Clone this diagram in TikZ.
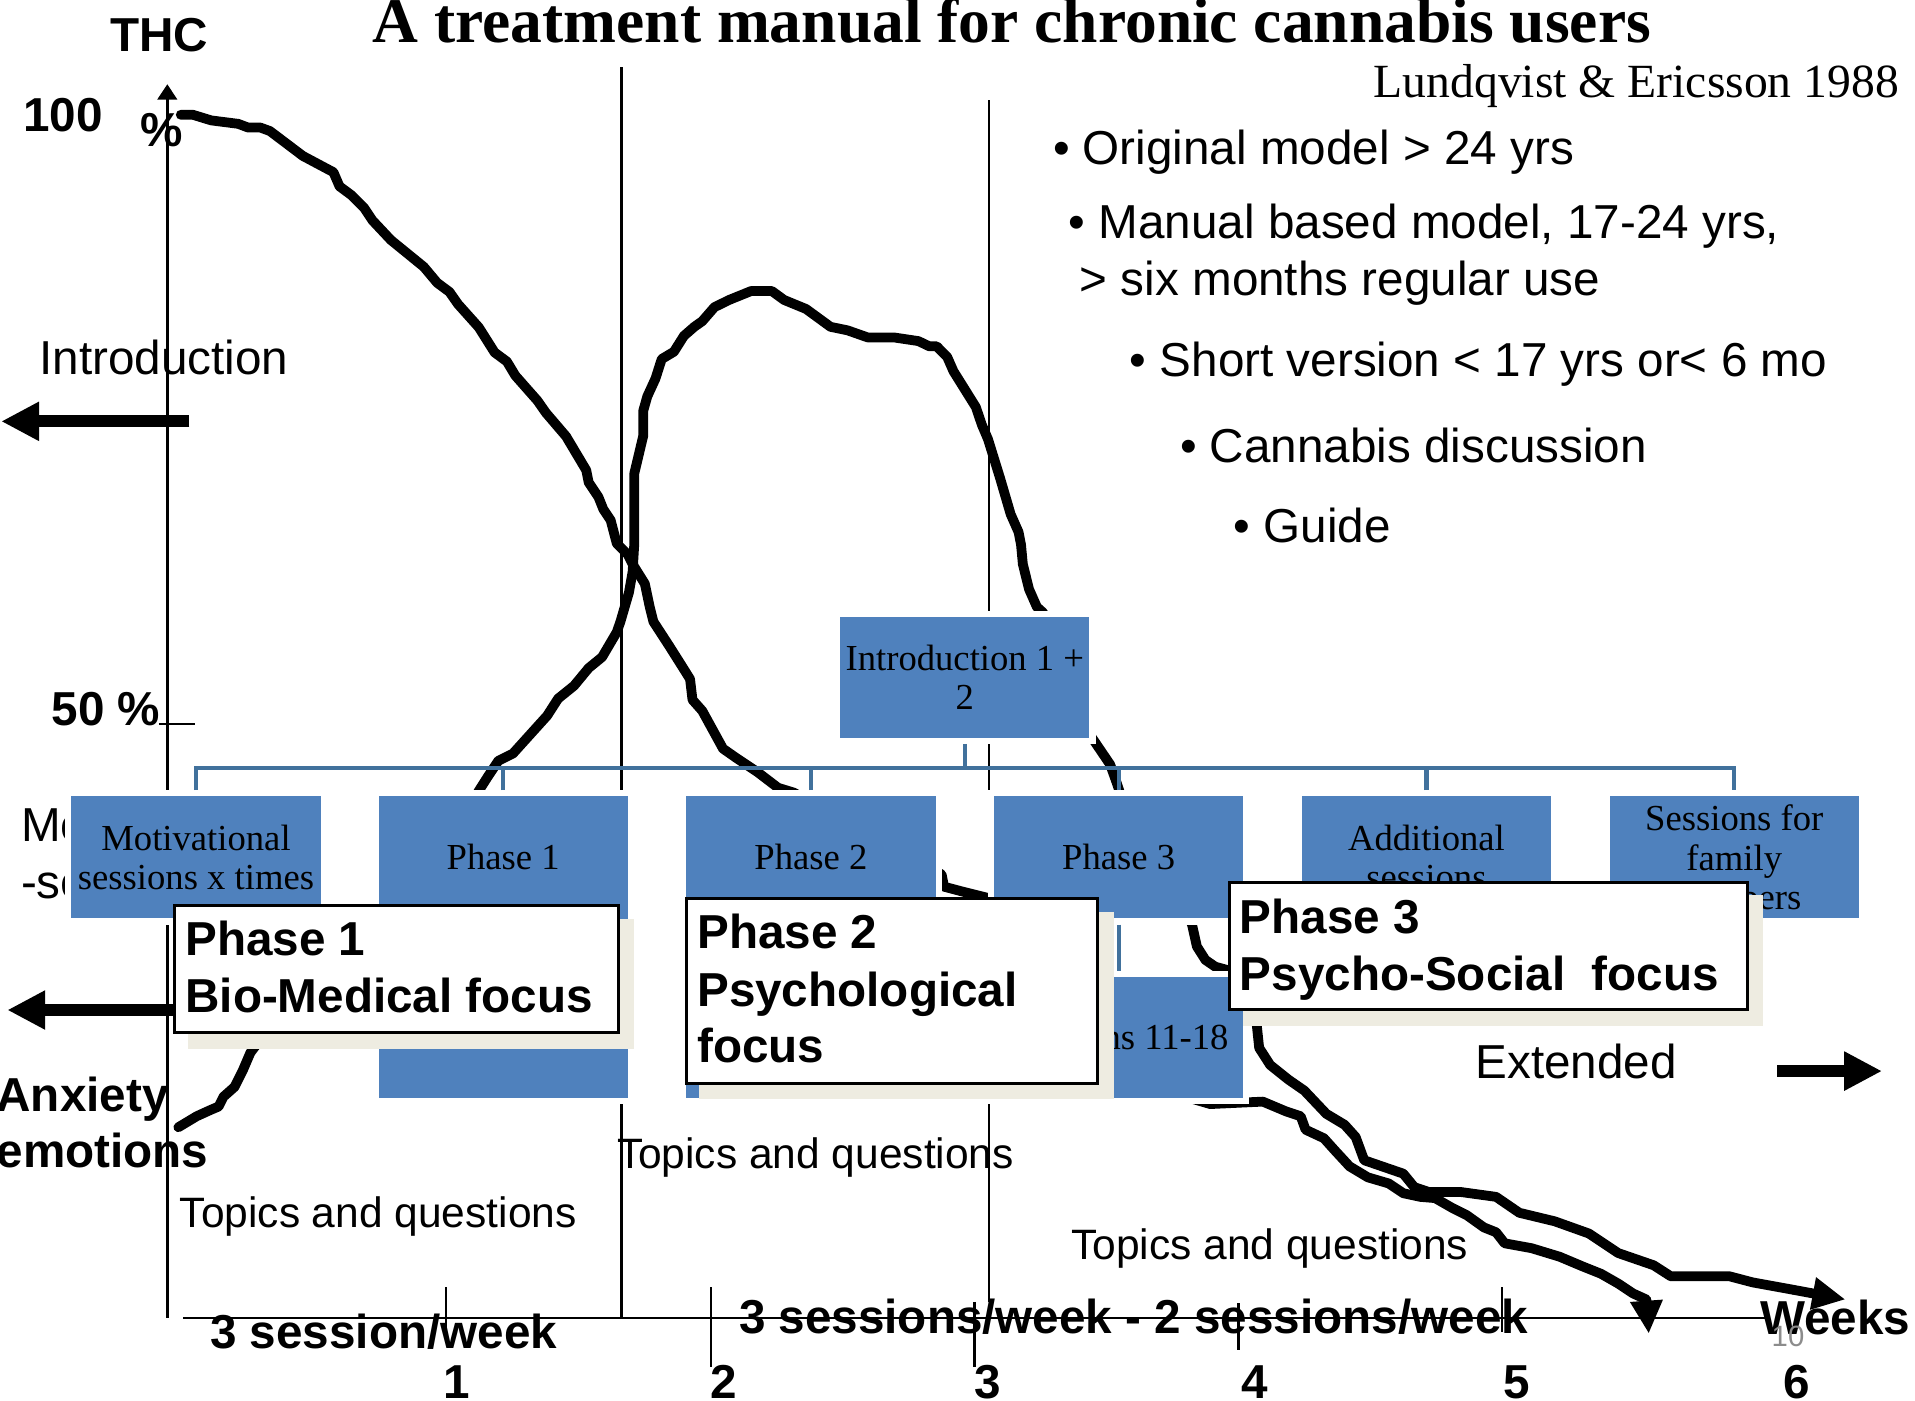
\documentclass[tikz,border=0pt]{standalone}
\usepackage{fontspec}
\setmainfont{Liberation Serif}
\setsansfont{Liberation Sans}
\usetikzlibrary{arrows.meta}
\definecolor{boxblue}{HTML}{4F81BD}
\definecolor{barblue}{HTML}{41719C}
\definecolor{shadowbeige}{HTML}{EEECE1}
\definecolor{pagegray}{HTML}{8C8C8C}
\newcommand\fsBig{\fontsize{39}{46}\selectfont}
\newcommand\fsBox{\fontsize{30}{32}\selectfont}
\newcommand\fsTopic{\fontsize{34.8}{40}\selectfont}
\tikzset{
  thinline/.style={line width=2pt},
  curve/.style={line width=8pt, line join=round, line cap=round},
  bigarrow/.style={line width=10pt, -{Triangle[length=31pt,width=30pt]}},
  bluebox/.style={rectangle, fill=boxblue, draw=white, line width=5pt, minimum width=209pt, minimum height=105pt, inner sep=0pt, align=center, font=\fsBox},
  boxtext/.style={font=\fsBox, inner sep=0pt, align=center},
  conn/.style={draw=barblue, line width=3.5pt},
  lblbox/.style={rectangle, fill=white, draw=black, line width=2.5pt, inner sep=0pt, anchor=north west},
  shadowbox/.style={rectangle, fill=shadowbeige, inner sep=0pt, anchor=north west},
  boldtxt/.style={font=\sffamily\bfseries\fsBig, inner sep=0pt},
  plaintxt/.style={font=\sffamily\fsBig, inner sep=0pt},
  topictxt/.style={font=\sffamily\fsTopic, inner sep=0pt, anchor=base west},
}
\begin{document}
\begin{tikzpicture}[x=1pt,y=-1pt]
\useasboundingbox (0,0) rectangle (1568,1147);

% ---- axes and guide lines
\draw[thinline, -{Triangle[length=12.5pt,width=16pt]}] (137,1079) -- (137,69);
\draw[thinline] (509,55) -- (509,1079);
\draw[thinline] (810,82) -- (810,1066);
\draw[thinline] (150,1079) -- (1447,1079);
\draw[thinline] (130,593) -- (160,593);
\draw[thinline] (365,1054) -- (365,1100);
\draw[thinline] (582,1054) -- (582,1119);
\draw[thinline] (798,1066) -- (798,1119);
\draw[thinline] (1014,1067) -- (1014,1105);
\draw[thinline] (1230,1054) -- (1230,1091);

% ---- text partly hidden under the first box
\node[plaintxt, anchor=base west] (motL) at (17,689) {Motivational};
\node[plaintxt, anchor=base west] (sesL) at (17,736) {-sessions};

% ---- curves
\draw[curve] (148,94) -- (158,94) -- (173,98.6) -- (195,101.4) -- (203,104.4) -- (213,104.4) -- (221,107.3) -- (248,127.7) -- (273,141) -- (278,152.6) -- (288,160) -- (298,170) -- (305,180.5) -- (320,196.5) -- (347,218.5) -- (358,231.6) -- (368,239) -- (375,249) -- (392,268) -- (405,288.6) -- (415,296) -- (422,307.6) -- (440,328) -- (447,338) -- (463.5,357.3) -- (480,385) -- (482,395) -- (490,407) -- (494,417) -- (500,426) -- (505,445) -- (514,454) -- (518,462) -- (528,478) -- (532,497) -- (535,509) -- (548,529) -- (560,548) -- (565,556) -- (567,573) -- (575,582) -- (592,613) -- (602,620) -- (620,632) -- (637,645) -- (650,649) -- (771,716) -- (773,726) -- (788,730) -- (808,735) -- (900,800) -- (960,895) -- (991,904) -- (1034,902) -- (1053,910) -- (1065,914) -- (1069,925) -- (1084,932) -- (1093,942) -- (1105,955) -- (1120,964) -- (1137,969) -- (1149,977) -- (1163,980) -- (1175,981) -- (1189,989) -- (1201,995) -- (1215,1005) -- (1225,1009) -- (1232,1018) -- (1254,1022) -- (1277,1029) -- (1296,1037) -- (1311,1043) -- (1325,1051) -- (1337,1059) -- (1348,1064);
\draw[curve, line cap=butt, -{Triangle[length=27pt,width=25pt]}] (1348,1064) -- (1350,1092);

\draw[curve] (146,923) -- (161,914) -- (172,909) -- (179,906) -- (183,898) -- (192,890) -- (199,876) -- (205,862) -- (208,858) -- (260,790) -- (330,745) -- (360,700) -- (393,646) -- (400,635) -- (408,623) -- (420,617) -- (448,586) -- (457,572) -- (470,561.5) -- (482,547) -- (493,538) -- (505,517.6) -- (508,509) -- (515,485) -- (518,468) -- (519.4,444.5) -- (519.4,387.5) -- (526.7,356.8) -- (526.7,336.3) -- (530,324.6) -- (536.7,310) -- (541.8,294) -- (551.8,288) -- (560,275) -- (568.5,267.6) -- (575,263) -- (585,251.5) -- (597,245.6) -- (615,238.3) -- (632,238.3) -- (642,245.6) -- (660,253) -- (680,267.6) -- (694,270.5) -- (710.5,276.3) -- (732,276.3) -- (752,279.3) -- (761,283.6) -- (767,283.6) -- (775.6,292.4) -- (780.7,304) -- (799,333.3) -- (804,348) -- (809,359.7) -- (819,392) -- (827.5,421) -- (834,435.7) -- (836,446) -- (837.5,462) -- (842.6,482.5) -- (849,497) -- (854,501.5) -- (870,540) -- (890,598) -- (909,626) -- (914,640) -- (918,652) -- (960,720) -- (976,757) -- (980,775) -- (987,786) -- (995,791.5) -- (1004,794) -- (1025,810) -- (1029,839) -- (1031,858) -- (1040,872) -- (1055,884) -- (1068,893) -- (1086,912) -- (1101,921) -- (1110,931) -- (1117,950) -- (1149,961) -- (1158,972) -- (1170,976) -- (1196,976) -- (1225,980) -- (1244,993) -- (1273,1000) -- (1301,1010) -- (1325,1026) -- (1354,1036) -- (1368,1045) -- (1416,1045) -- (1435,1050) -- (1468,1056);
\draw[curve, line cap=butt, -{Triangle[length=27pt,width=25pt]}] (1468,1056) -- (1511,1064);

% ---- left labels and big arrows
\node[plaintxt, anchor=base west] (introL) at (32,307) {Introduction};
\coordinate (a1s) at (155,345); \coordinate (a1e) at (1,345);
\draw[bigarrow] (a1s) -- (a1e);
\coordinate (a2s) at (145,827); \coordinate (a2e) at (6,827);
\draw[bigarrow] (a2s) -- (a2e);
\coordinate (a3s) at (1455,877); \coordinate (a3e) at (1541,877);
\draw[bigarrow] (a3s) -- (a3e);
\node[boldtxt, anchor=base west] (anx) at (-3,910) {Anxiety};
\node[boldtxt, anchor=base west] (emo) at (-3,956) {emotions};
\node[topictxt] (tq1) at (147,1005) {Topics and questions};
\node[topictxt] (tq2) at (505,957) {Topics and questions};
\node[topictxt] (tq3) at (877,1031) {Topics and questions};
\node[plaintxt, anchor=base west] (ext) at (1208,883) {Extended};

% ---- organisation chart
\node[bluebox, minimum height=104pt] (intro) at (790,554.5) {Introduction 1 +\\2};
\node[bluebox] (mot) at (160.5,702) {Motivational\\sessions x times};
\node[bluebox, minimum height=252pt] (p1) at (412,775.5) {};
\node[boxtext] (p1t) at (412,702) {Phase 1};
\node[bluebox, minimum height=252pt] (p2) at (664,775.5) {};
\node[boxtext] (p2t) at (664,702) {Phase 2};
\node[bluebox] (p3) at (916,702) {Phase 3};
\node[bluebox] (add) at (1168,702) {Additional\\sessions};
\node[bluebox] (fam) at (1420,702) {Sessions for\\family\\members};
\node[bluebox, minimum height=104pt] (s1118) at (916,849.5) {Sessions 11-18};

\coordinate (bar) at (0,629);
\draw[conn] (mot.north) -- (mot.north |- bar) -- (fam.north |- bar) -- (fam.north);
\draw[conn] (p1.north) -- (p1.north |- bar);
\draw[conn] (p2.north) -- (p2.north |- bar);
\draw[conn] (p3.north) -- (p3.north |- bar);
\draw[conn] (add.north) -- (add.north |- bar);
\draw[conn] (intro.south) -- (intro.south |- bar);
\draw[conn] (p3.south) -- (s1118.north);

% ---- phase label boxes
\node[shadowbox, minimum width=365.5pt, minimum height=106.4pt] (sh1) at (153.5,752) {};
\node[lblbox, minimum width=363.4pt, minimum height=103.7pt] (lb1) at (141.8,740.2) {};
\node[boldtxt, anchor=base west] (lb1a) at (151.6,782) {Phase 1};
\node[boldtxt, anchor=base west] (lb1b) at (151.6,829) {Bio-Medical focus};

\node[shadowbox, minimum width=339.4pt, minimum height=153.4pt] (sh2) at (572.3,746.5) {};
\node[lblbox, minimum width=337pt, minimum height=151.5pt] (lb2) at (560.7,734.2) {};
\node[boldtxt, anchor=base west] (lb2a) at (570.7,777) {Phase 2};
\node[boldtxt, anchor=base west] (lb2b) at (570.7,824) {Psychological};
\node[boldtxt, anchor=base west] (lb2c) at (570.7,870) {focus};

\node[shadowbox, minimum width=426.1pt, minimum height=107pt] (sh3) at (1017.5,732.8) {};
\node[lblbox, minimum width=424.1pt, minimum height=104pt] (lb3) at (1005.5,721.4) {};
\node[boldtxt, anchor=base west] (lb3a) at (1015,764) {Phase 3};
\node[boldtxt, anchor=base west] (lb3b) at (1015,811) {Psycho-Social\ \ focus};

% ---- top texts
\node[boldtxt, anchor=base west] (thc) at (90,42) {THC};
\node[font=\bfseries\fontsize{52}{58}\selectfont, inner sep=0pt, anchor=base] (title) at (828.5,35) {A treatment manual for chronic cannabis users};
\node[font=\fsBig, inner sep=0pt, anchor=base east] (ref) at (1555,80) {Lundqvist \& Ericsson 1988};
\node[boldtxt, anchor=base west] (y100) at (19,108) {100};
\node[boldtxt, anchor=base west] (pct) at (115,120) {\%};
\node[boldtxt, anchor=base west] (y50) at (42,594) {50 \%};

\node[plaintxt, anchor=base west] (b1) at (862,135) {• Original model > 24 yrs};
\node[plaintxt, anchor=base west] (b2) at (875,195) {• Manual based model, 17-24 yrs,};
\node[plaintxt, anchor=base west] (b2b) at (884,242) {> six months regular use};
\node[plaintxt, anchor=base west] (b3) at (925,308) {• Short version < 17 yrs or< 6 mo};
\node[plaintxt, anchor=base west] (b4) at (966,379) {• Cannabis discussion};
\node[plaintxt, anchor=base west] (b5) at (1010,444) {• Guide};

% ---- bottom axis texts
\node[boldtxt, anchor=base west] (s1) at (172,1104) {3 session/week};
\node[boldtxt, anchor=base west] (s2) at (605,1092) {3 sessions/week - 2 sessions/week};
\node[boldtxt, anchor=base west] (wk) at (1441,1093) {Weeks};
\node[boldtxt, anchor=base] (n1) at (374,1145) {1};
\node[boldtxt, anchor=base] (n2) at (593,1145) {2};
\node[boldtxt, anchor=base] (n3) at (809,1145) {3};
\node[boldtxt, anchor=base] (n4) at (1027,1145) {4};
\node[boldtxt, anchor=base] (n5) at (1242,1145) {5};
\node[boldtxt, anchor=base] (n6) at (1471,1145) {6};
\node[font=\sffamily\fontsize{24}{28}\selectfont, text=pagegray, inner sep=0pt] (pg) at (1464,1094) {10};
\end{tikzpicture}
\end{document}
